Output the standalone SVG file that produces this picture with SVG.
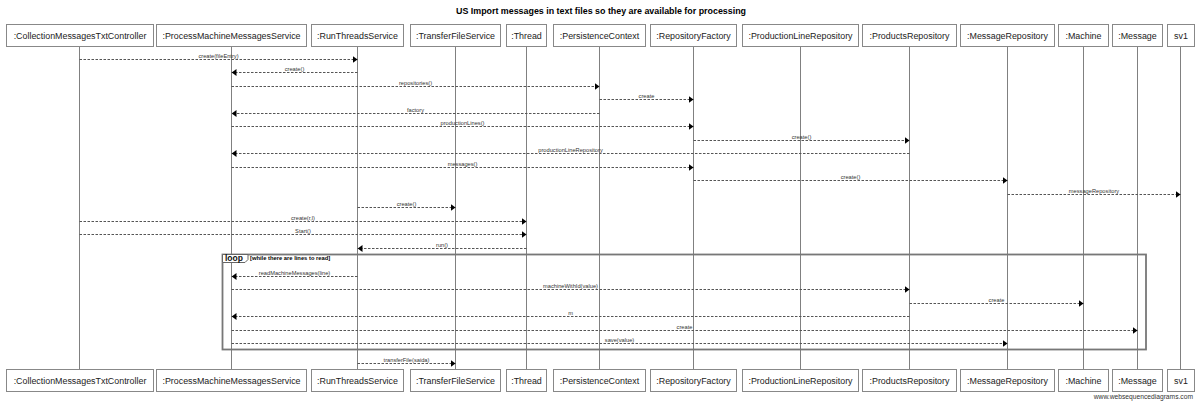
<svg xmlns="http://www.w3.org/2000/svg" width="1200" height="401" viewBox="0 0 1200 401">
<style>
.title{font-family:"Liberation Sans",Arial,sans-serif;font-size:8.9px;font-weight:bold;fill:#000;text-anchor:middle}
.box{fill:#fff;stroke:#888;stroke-width:1}
.pt{font-family:"Liberation Sans",Arial,sans-serif;font-size:8.9px;fill:#222;text-anchor:middle}
.life{stroke:#808080;stroke-width:1}
.msg{stroke:#555;stroke-width:1;stroke-dasharray:2.5,1.5;fill:none}
.ml{font-family:"Liberation Sans",Arial,sans-serif;font-size:5.7px;fill:#333;text-anchor:middle}
.frame{fill:none;stroke:#777;stroke-width:1.8}
.lp{font-family:"Liberation Sans",Arial,sans-serif;font-size:8.5px;font-weight:bold;fill:#111}
.guard{font-family:"Liberation Sans",Arial,sans-serif;font-size:5.8px;font-weight:bold;fill:#000}
.wm{font-family:"Liberation Sans",Arial,sans-serif;font-size:6.7px;fill:#333;text-anchor:end}
</style>
<defs>
<marker id="ah" markerUnits="userSpaceOnUse" markerWidth="5" markerHeight="7" refX="5" refY="3.5" orient="auto">
<path d="M0,0 L5,3.5 L0,7 z" fill="#000"/>
</marker>
</defs>
<rect width="1200" height="401" fill="#fff"/>
<text class="title" x="601" y="13.5">US Import messages in text files so they are available for processing</text>

<g id="lifelines">
<line class="life" x1="79.5" y1="46" x2="79.5" y2="369"/>
<line class="life" x1="231.5" y1="46" x2="231.5" y2="369"/>
<line class="life" x1="357.5" y1="46" x2="357.5" y2="369"/>
<line class="life" x1="455.5" y1="46" x2="455.5" y2="369"/>
<line class="life" x1="526.5" y1="46" x2="526.5" y2="369"/>
<line class="life" x1="599.5" y1="46" x2="599.5" y2="369"/>
<line class="life" x1="693.5" y1="46" x2="693.5" y2="369"/>
<line class="life" x1="800.5" y1="46" x2="800.5" y2="369"/>
<line class="life" x1="909.5" y1="46" x2="909.5" y2="369"/>
<line class="life" x1="1007.5" y1="46" x2="1007.5" y2="369"/>
<line class="life" x1="1083.5" y1="46" x2="1083.5" y2="369"/>
<line class="life" x1="1137.5" y1="46" x2="1137.5" y2="369"/>
<line class="life" x1="1180.5" y1="46" x2="1180.5" y2="369"/>
</g>

<g id="p1"><rect class="box" x="6.5" y="24.5" width="147" height="22"/><text class="pt" x="80" y="38.5">:CollectionMessagesTxtController</text>
<rect class="box" x="6.5" y="369.5" width="147" height="22"/><text class="pt" x="80" y="383.5">:CollectionMessagesTxtController</text></g>
<g id="p2"><rect class="box" x="156.5" y="24.5" width="150" height="22"/><text class="pt" x="231.5" y="38.5">:ProcessMachineMessagesService</text>
<rect class="box" x="156.5" y="369.5" width="150" height="22"/><text class="pt" x="231.5" y="383.5">:ProcessMachineMessagesService</text></g>
<g id="p3"><rect class="box" x="311.5" y="24.5" width="92" height="22"/><text class="pt" x="357.5" y="38.5">:RunThreadsService</text>
<rect class="box" x="311.5" y="369.5" width="92" height="22"/><text class="pt" x="357.5" y="383.5">:RunThreadsService</text></g>
<g id="p4"><rect class="box" x="410.5" y="24.5" width="90" height="22"/><text class="pt" x="455.5" y="38.5">:TransferFileService</text>
<rect class="box" x="410.5" y="369.5" width="90" height="22"/><text class="pt" x="455.5" y="383.5">:TransferFileService</text></g>
<g id="p5"><rect class="box" x="506.5" y="24.5" width="40" height="22"/><text class="pt" x="526.5" y="38.5">:Thread</text>
<rect class="box" x="506.5" y="369.5" width="40" height="22"/><text class="pt" x="526.5" y="383.5">:Thread</text></g>
<g id="p6"><rect class="box" x="553.5" y="24.5" width="92" height="22"/><text class="pt" x="599.5" y="38.5">:PersistenceContext</text>
<rect class="box" x="553.5" y="369.5" width="92" height="22"/><text class="pt" x="599.5" y="383.5">:PersistenceContext</text></g>
<g id="p7"><rect class="box" x="650.5" y="24.5" width="86" height="22"/><text class="pt" x="693.5" y="38.5">:RepositoryFactory</text>
<rect class="box" x="650.5" y="369.5" width="86" height="22"/><text class="pt" x="693.5" y="383.5">:RepositoryFactory</text></g>
<g id="p8"><rect class="box" x="742.5" y="24.5" width="116" height="22"/><text class="pt" x="800.5" y="38.5">:ProductionLineRepository</text>
<rect class="box" x="742.5" y="369.5" width="116" height="22"/><text class="pt" x="800.5" y="383.5">:ProductionLineRepository</text></g>
<g id="p9"><rect class="box" x="862.5" y="24.5" width="94" height="22"/><text class="pt" x="909.5" y="38.5">:ProductsRepository</text>
<rect class="box" x="862.5" y="369.5" width="94" height="22"/><text class="pt" x="909.5" y="383.5">:ProductsRepository</text></g>
<g id="p10"><rect class="box" x="960.5" y="24.5" width="94" height="22"/><text class="pt" x="1007.5" y="38.5">:MessageRepository</text>
<rect class="box" x="960.5" y="369.5" width="94" height="22"/><text class="pt" x="1007.5" y="383.5">:MessageRepository</text></g>
<g id="p11"><rect class="box" x="1058.5" y="24.5" width="50" height="22"/><text class="pt" x="1083.5" y="38.5">:Machine</text>
<rect class="box" x="1058.5" y="369.5" width="50" height="22"/><text class="pt" x="1083.5" y="383.5">:Machine</text></g>
<g id="p12"><rect class="box" x="1112.5" y="24.5" width="50" height="22"/><text class="pt" x="1137.5" y="38.5">:Message</text>
<rect class="box" x="1112.5" y="369.5" width="50" height="22"/><text class="pt" x="1137.5" y="383.5">:Message</text></g>
<g id="p13"><rect class="box" x="1167.5" y="24.5" width="27" height="22"/><text class="pt" x="1181" y="38.5">sv1</text>
<rect class="box" x="1167.5" y="369.5" width="27" height="22"/><text class="pt" x="1181" y="383.5">sv1</text></g>

<g id="loop">
<rect class="frame" x="222.5" y="254.5" width="923.5" height="95"/>
<path d="M222.5,254.5 L248,254.5 L248,259.5 L245,262.5 L222.5,262.5 z" fill="#fff" stroke="#666" stroke-width="1"/>
<text class="lp" x="225" y="261.3">loop</text>
<text class="guard" x="250" y="259.6">[while there are lines to read]</text>
</g>

<g id="connectors">
<line class="msg" x1="79.5" y1="59.5" x2="357.5" y2="59.5" marker-end="url(#ah)"/>
<line class="msg" x1="357.5" y1="72.5" x2="231.5" y2="72.5" marker-end="url(#ah)"/>
<line class="msg" x1="231.5" y1="86.5" x2="599.5" y2="86.5" marker-end="url(#ah)"/>
<line class="msg" x1="599.5" y1="99.5" x2="693.5" y2="99.5" marker-end="url(#ah)"/>
<line class="msg" x1="599.5" y1="113.5" x2="231.5" y2="113.5" marker-end="url(#ah)"/>
<line class="msg" x1="231.5" y1="126.5" x2="693.5" y2="126.5" marker-end="url(#ah)"/>
<line class="msg" x1="693.5" y1="140.5" x2="909.5" y2="140.5" marker-end="url(#ah)"/>
<line class="msg" x1="909.5" y1="153.5" x2="231.5" y2="153.5" marker-end="url(#ah)"/>
<line class="msg" x1="231.5" y1="167.5" x2="693.5" y2="167.5" marker-end="url(#ah)"/>
<line class="msg" x1="693.5" y1="180.5" x2="1007.5" y2="180.5" marker-end="url(#ah)"/>
<line class="msg" x1="1007.5" y1="194.5" x2="1180.5" y2="194.5" marker-end="url(#ah)"/>
<line class="msg" x1="357.5" y1="207.5" x2="455.5" y2="207.5" marker-end="url(#ah)"/>
<line class="msg" x1="79.5" y1="221.5" x2="526.5" y2="221.5" marker-end="url(#ah)"/>
<line class="msg" x1="79.5" y1="234.5" x2="526.5" y2="234.5" marker-end="url(#ah)"/>
<line class="msg" x1="526.5" y1="248.5" x2="357.5" y2="248.5" marker-end="url(#ah)"/>
<line class="msg" x1="357.5" y1="276.5" x2="231.5" y2="276.5" marker-end="url(#ah)"/>
<line class="msg" x1="231.5" y1="289.5" x2="909.5" y2="289.5" marker-end="url(#ah)"/>
<line class="msg" x1="909.5" y1="303.5" x2="1083.5" y2="303.5" marker-end="url(#ah)"/>
<line class="msg" x1="909.5" y1="316.5" x2="231.5" y2="316.5" marker-end="url(#ah)"/>
<line class="msg" x1="231.5" y1="330.5" x2="1137.5" y2="330.5" marker-end="url(#ah)"/>
<line class="msg" x1="231.5" y1="343.5" x2="1007.5" y2="343.5" marker-end="url(#ah)"/>
<line class="msg" x1="357.5" y1="363.5" x2="455.5" y2="363.5" marker-end="url(#ah)"/>
<text class="ml" x="218.5" y="57.5">create(fileEntry)</text>
<text class="ml" x="294.5" y="70.5">create()</text>
<text class="ml" x="415.5" y="84.5">repositories()</text>
<text class="ml" x="646.5" y="97.5">create</text>
<text class="ml" x="415.5" y="111.5">factory</text>
<text class="ml" x="462.5" y="124.5">productionLines()</text>
<text class="ml" x="801.5" y="138.5">create()</text>
<text class="ml" x="570.5" y="151.5">productionLineRepository</text>
<text class="ml" x="462.5" y="165.5">messages()</text>
<text class="ml" x="850.5" y="178.5">create()</text>
<text class="ml" x="1094" y="192.5">messageRepository</text>
<text class="ml" x="406.5" y="205.5">create()</text>
<text class="ml" x="303" y="219.5">create(r,l)</text>
<text class="ml" x="303" y="232.5">Start()</text>
<text class="ml" x="442" y="246.5">run()</text>
<text class="ml" x="294.5" y="274.5">readMachineMessages(line)</text>
<text class="ml" x="570.5" y="287.5">machineWithId(value)</text>
<text class="ml" x="996.5" y="301.5">create</text>
<text class="ml" x="570.5" y="314.5">m</text>
<text class="ml" x="684.5" y="328.5">create</text>
<text class="ml" x="619.5" y="341.5">save(value)</text>
<text class="ml" x="406.5" y="361.5">transferFile(saida)</text>
</g>

<text class="wm" x="1193" y="398.5">www.websequencediagrams.com</text>
</svg>
